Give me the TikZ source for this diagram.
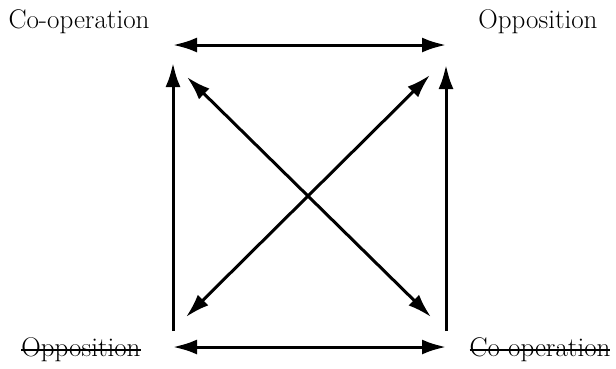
\documentclass[tikz,border=0pt]{standalone}
\usetikzlibrary{calc, arrows.meta}

% struck-through word
\newcommand\strk[1]{\setbox0\hbox{#1}\rlap{\rule[0.22em]{\wd0}{1.6pt}}\box0}

\begin{document}
\begin{tikzpicture}[
    x = 1pt, y = -1pt,
    every node/.style = {font=\fontsize{27}{30}\selectfont, inner sep=0pt},
    term/.style  = {anchor=center},
    arr/.style   = {-{Latex[length=24pt, width=15pt]}, line width=3pt},
    darr/.style  = {{Latex[length=24pt, width=15pt]}-{Latex[length=24pt, width=15pt]}, line width=3pt}
]
\useasboundingbox (0,0) rectangle (616,368);

% corners of the square
\coordinate (tl) at (173,45);
\coordinate (tr) at (446,45);
\coordinate (bl) at (173,347);
\coordinate (br) at (446,347);

\node[term] (coop)    at (79,22)  {Co-operation};
\node[term] (opp)     at (538,22) {Opposition};
\node[term] (notopp)  at (81,350) {\strk{Opposition}};
\node[term] (notcoop) at (540,350) {\strk{Co-operation}};

\draw[darr] (tl) -- (tr);
\draw[darr] (bl) -- (br);
\draw[arr] ($(bl)+(0,-16)$) -- ($(tl)+(0,18)$);
\draw[arr] ($(br)+(0,-16)$) -- ($(tr)+(0,20)$);
\draw[darr] ($(tl)+(14,32)$) -- ($(br)+(-15,-30)$);
\draw[darr] ($(bl)+(13,-30)$) -- ($(tr)+(-16,30)$);
\end{tikzpicture}
\end{document}
